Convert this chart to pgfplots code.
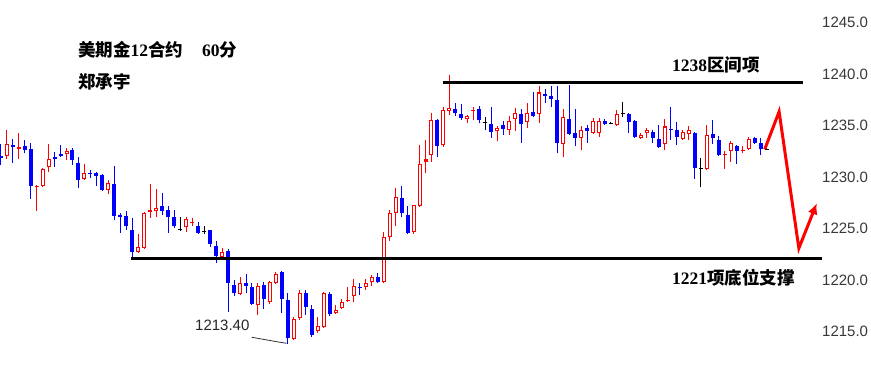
\documentclass[border=0pt]{standalone}
\usepackage{fontspec}
\setmainfont{Liberation Serif}
\newfontfamily\cjk{Noto Sans CJK SC}
\newfontfamily\sansf{Liberation Sans}
\usepackage{pgfplots}
\usepackage{pgfplotstable}
\pgfplotsset{compat=1.18}
\usetikzlibrary{arrows.meta}
% columns: i = bar index, l = low, bb = body bottom, bt = body top, h = high
\pgfplotstableread{
i l bb bt h
1 1231.7 1232.0 1233.2 1234.6
3 1231.7 1232.7 1232.9 1234.3
6 1226.7 1229.0 1229.1 1229.2
7 1229.0 1229.1 1230.8 1230.9
8 1230.5 1231.0 1231.7 1233.2
11 1231.6 1232.2 1232.5 1232.8
14 1229.7 1229.8 1230.4 1231.3
18 1228.3 1228.7 1229.4 1229.7
23 1222.6 1222.7 1223.2 1224.5
24 1223.0 1223.1 1226.5 1226.6
25 1226.0 1226.6 1226.8 1229.3
26 1226.1 1226.7 1227.0 1228.8
31 1224.7 1225.1 1225.9 1226.1
32 1225.2 1225.5 1225.6 1226.0
37 1222.1 1222.2 1222.7 1223.1
40 1218.5 1218.6 1219.7 1220.3
43 1216.6 1217.6 1219.4 1219.7
45 1217.7 1217.9 1219.8 1219.9
46 1219.6 1219.7 1220.6 1220.8
49 1214.2 1214.3 1216.2 1216.4
50 1216.1 1216.3 1218.7 1219.0
53 1214.9 1215.0 1215.5 1216.4
54 1215.3 1215.4 1218.7 1218.8
56 1216.7 1216.8 1217.1 1217.6
57 1217.2 1217.3 1217.9 1218.2
58 1217.9 1218.0 1218.1 1219.3
59 1217.9 1218.4 1219.4 1220.1
61 1219.0 1219.3 1219.7 1220.1
62 1219.4 1219.8 1220.3 1220.5
64 1219.7 1219.8 1224.2 1224.7
65 1223.8 1224.2 1226.5 1226.8
66 1225.2 1226.5 1228.1 1228.9
69 1224.5 1224.7 1227.3 1227.3
70 1227.1 1227.2 1231.3 1233.1
71 1230.4 1231.5 1231.7 1233.6
72 1231.5 1232.1 1235.5 1236.2
74 1232.9 1233.1 1236.5 1236.8
75 1236.0 1236.4 1236.7 1239.9
78 1235.2 1235.6 1235.9 1236.0
79 1235.5 1236.4 1236.5 1236.8
83 1233.5 1234.5 1234.8 1234.9
85 1234.1 1234.6 1235.4 1235.9
86 1234.5 1235.6 1236.2 1236.7
88 1234.8 1235.3 1236.2 1237.2
90 1235.2 1236.1 1238.2 1238.8
94 1231.9 1233.2 1235.8 1236.6
97 1232.6 1233.8 1234.6 1234.9
99 1234.2 1234.3 1235.4 1235.7
100 1233.9 1234.3 1235.4 1235.7
103 1234.9 1235.0 1236.1 1236.5
107 1233.7 1233.8 1234.1 1234.3
108 1233.8 1234.3 1234.6 1234.8
111 1232.6 1233.2 1234.9 1235.6
114 1233.6 1233.7 1234.4 1234.6
115 1233.6 1234.2 1234.6 1234.9
118 1230.7 1230.8 1234.1 1235.0
121 1230.8 1232.1 1232.2 1232.5
122 1231.5 1232.5 1233.3 1233.5
124 1232.3 1232.5 1232.6 1233.0
125 1232.6 1232.7 1233.7 1233.9
}\redtab
\pgfplotstableread{
i l bb bt h
0 1231.2 1231.8 1232.0 1233.2
2 1231.4 1232.9 1233.1 1233.7
4 1232.3 1232.6 1233.0 1233.6
5 1227.9 1229.1 1232.7 1233.3
9 1231.0 1231.7 1231.9 1232.4
10 1231.9 1232.0 1232.2 1233.1
12 1231.2 1231.6 1232.6 1232.8
13 1228.9 1229.7 1231.4 1231.9
15 1229.9 1230.3 1230.4 1230.7
16 1229.1 1230.1 1230.4 1230.5
17 1228.6 1228.7 1230.2 1230.3
19 1225.8 1226.2 1229.3 1231.1
20 1224.6 1226.1 1226.3 1226.5
21 1224.9 1225.2 1226.2 1226.7
22 1221.9 1222.7 1224.9 1226.0
27 1226.3 1226.7 1227.2 1228.4
28 1224.6 1226.1 1226.8 1227.2
29 1225.0 1225.2 1226.1 1226.8
33 1224.5 1224.6 1225.2 1225.6
35 1223.2 1223.5 1224.9 1224.9
36 1221.6 1222.3 1223.3 1223.8
38 1216.9 1219.7 1222.8 1223.0
39 1218.4 1218.7 1219.5 1220.0
41 1218.7 1219.4 1219.7 1220.6
42 1217.6 1217.7 1219.3 1219.7
44 1217.2 1218.2 1219.5 1219.8
47 1216.8 1218.2 1220.8 1220.9
48 1213.8 1214.4 1218.1 1218.7
51 1216.6 1217.4 1218.7 1219.0
52 1214.5 1214.7 1217.2 1217.6
55 1216.5 1216.7 1218.6 1218.8
60 1218.5 1219.2 1219.3 1219.7
63 1219.7 1219.8 1220.3 1220.7
67 1226.1 1226.5 1228.0 1229.1
68 1224.5 1224.6 1226.3 1227.2
73 1231.9 1233.0 1235.5 1235.6
76 1235.9 1236.2 1236.6 1237.2
77 1235.5 1235.7 1236.1 1237.1
80 1235.2 1235.5 1236.6 1236.9
82 1233.8 1234.4 1235.1 1236.8
84 1234.1 1234.7 1235.0 1235.4
87 1233.3 1235.1 1236.1 1236.6
89 1235.8 1235.9 1236.3 1238.2
91 1237.2 1237.9 1238.1 1238.5
92 1236.8 1237.6 1237.9 1238.8
93 1232.3 1233.3 1237.5 1238.8
95 1234.1 1234.2 1235.6 1238.9
96 1233.0 1233.8 1234.3 1236.6
98 1233.3 1234.5 1234.8 1235.0
101 1235.0 1235.1 1235.4 1235.6
105 1234.3 1235.3 1236.1 1236.2
106 1233.8 1233.9 1235.4 1235.5
109 1233.3 1233.8 1234.4 1234.6
110 1232.8 1232.9 1233.7 1235.0
112 1233.6 1234.6 1234.7 1236.8
113 1233.1 1233.9 1234.6 1235.3
116 1229.8 1230.9 1234.3 1234.4
119 1233.2 1233.8 1234.2 1235.5
120 1232.0 1232.1 1233.6 1234.0
123 1231.3 1232.5 1233.0 1233.1
126 1233.2 1233.3 1233.8 1233.9
127 1232.1 1232.7 1233.3 1233.8
}\bluetab
\pgfplotstableread{
i l bb bt h
30 1224.8 1224.9 1224.9 1226.1
34 1224.5 1224.7 1224.7 1225.2
81 1234.6 1235.3 1235.3 1235.8
102 1235.1 1235.2 1235.2 1235.3
104 1235.8 1236.2 1236.2 1237.3
117 1229.0 1230.8 1230.8 1231.8
128 1232.6 1232.7 1232.7 1232.8
}\blacktab
\pgfplotsset{candle/.style={draw=none, mark=none, error bars/y dir=plus,
  error bars/y explicit, error bars/error mark=none}}
\begin{document}
\begin{tikzpicture}
\useasboundingbox (0,0) rectangle (871pt,380pt);
\begin{axis}[at={(0pt,0pt)}, anchor=south west, scale only axis,
  width=815pt, height=380pt,
  xmin=-0.117, xmax=136.1, ymin=1210.29, ymax=1247.18,
  axis line style={draw=none}, xtick=\empty,
  ytick={1215,1220,1225,1230,1235,1240,1245},
  yticklabel pos=right, major tick length=0pt,
  yticklabel style={anchor=west, inner sep=0pt, xshift=7pt, text=black!78,
    font=\sansf\fontsize{15}{15}\selectfont,
    /pgf/number format/fixed, /pgf/number format/fixed zerofill,
    /pgf/number format/precision=1, /pgf/number format/1000 sep={},
    /pgf/number format/assume math mode=true},
  clip=false]
% wicks
\addplot[candle, error bars/error bar style={draw=red, line width=1pt}]
  table[x=i, y=l, y error expr=\thisrow{h}-\thisrow{l}] {\redtab};
\addplot[candle, error bars/error bar style={draw=blue, line width=1pt}]
  table[x=i, y=l, y error expr=\thisrow{h}-\thisrow{l}] {\bluetab};
\addplot[candle, error bars/error bar style={draw=black, line width=1pt}]
  table[x=i, y=l, y error expr=\thisrow{h}-\thisrow{l}] {\blacktab};
% bodies
\addplot[candle, error bars/error bar style={draw=blue, line width=4pt, line cap=butt}]
  table[x=i, y=bb, y error expr=\thisrow{bt}-\thisrow{bb}] {\bluetab};
\addplot[candle, error bars/error bar style={draw=red, line width=4pt, line cap=butt}]
  table[x=i, y=bb, y error expr=\thisrow{bt}-\thisrow{bb}] {\redtab};
\addplot[candle, error bars/error bar style={draw=white, line width=2pt, line cap=butt}]
  table[x=i, y expr=\thisrow{bb}+0.1, y error expr={max(\thisrow{bt}-\thisrow{bb}-0.2,0)}] {\redtab};
\addplot[only marks, mark=-, mark size=2pt, black, line width=1pt]
  table[x=i, y=bb] {\blacktab};
% support / resistance
\draw[black, line width=3pt] (axis cs:21.77,1222.04) -- (axis cs:137.2,1222.04);
\draw[black, line width=3pt] (axis cs:73.9,1239.13) -- (axis cs:134.05,1239.13);
% low marker line
\draw[black!80, line width=0.8pt] (axis cs:41.94,1214.44) -- (axis cs:46.1,1214.01) -- (axis cs:47.8,1213.85);
% forecast arrow
\draw[red, line width=3pt, miter limit=20, -{Latex[length=11pt,width=10pt]}] (axis cs:127.7,1232.69) -- (axis cs:130.1,1236.34) -- (axis cs:133.4,1223.08) -- (axis cs:136.4,1227.45);
\end{axis}
\node[anchor=west, inner sep=0pt] at (78pt,330pt) {\fontsize{17.5}{20}\selectfont\bfseries{\cjk 美期金}12{\cjk 合约}\hspace{19pt}60{\cjk 分}};
\node[anchor=west, inner sep=0pt] at (78pt,298pt) {\fontsize{17.5}{20}\selectfont\bfseries{\cjk 郑承宇}};
\node[anchor=west, inner sep=0pt] at (672pt,315pt) {\fontsize{17.5}{20}\selectfont\bfseries 1238{\cjk 区间项}};
\node[anchor=west, inner sep=0pt] at (672pt,102pt) {\fontsize{17.5}{20}\selectfont\bfseries 1221{\cjk 项底位支撑}};
\node[anchor=west, inner sep=0pt, text=black!85] at (195pt,55pt) {\sansf\fontsize{15}{15}\selectfont 1213.40};
\end{tikzpicture}
\end{document}
